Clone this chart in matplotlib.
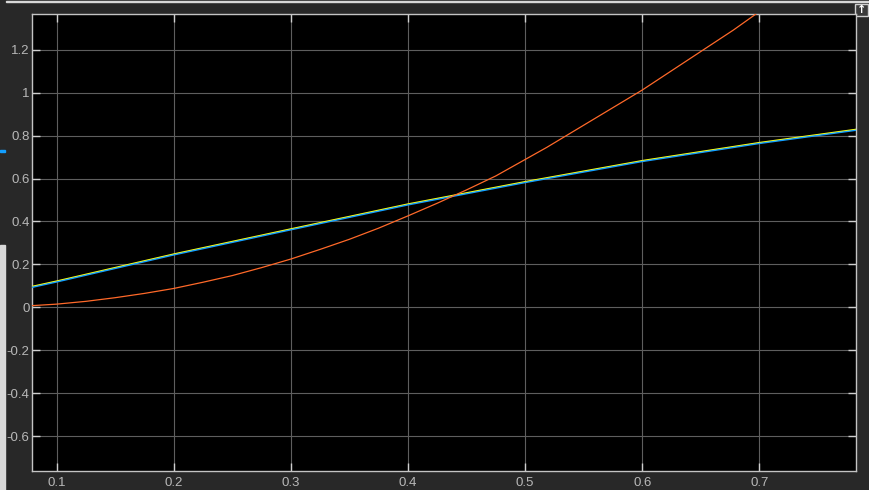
import matplotlib.pyplot as plt
import matplotlib.patheffects as pe
from matplotlib.patches import Rectangle

plt.rcParams.update({'font.family': ['Liberation Sans', 'DejaVu Sans'], 'font.size': 10})

# straight-ish signal (yellow + blue overlapping)
line_t = [0.079, 0.1, 0.2, 0.3, 0.4, 0.5, 0.6, 0.7, 0.783]
line_y = [0.097, 0.122, 0.248, 0.365, 0.481, 0.585, 0.683, 0.767, 0.829]

# orange parabola-like signal
curve_t = [0.079, 0.1, 0.125, 0.15, 0.175, 0.2, 0.225, 0.25, 0.275, 0.3, 0.325, 0.35,
           0.375, 0.4, 0.425, 0.45, 0.475, 0.5185, 0.6, 0.678, 0.72]
curve_y = [0.008, 0.015, 0.028, 0.045, 0.065, 0.088, 0.117, 0.148, 0.185, 0.225, 0.27, 0.317,
           0.369, 0.426, 0.485, 0.547, 0.612, 0.745, 1.012, 1.292, 1.455]

x_ticks = [0.1, 0.2, 0.3, 0.4, 0.5, 0.6, 0.7]
y_ticks = [-0.6, -0.4, -0.2, 0, 0.2, 0.4, 0.6, 0.8, 1, 1.2]

BG = '#282828'
fig = plt.figure(figsize=(8.69, 4.9), dpi=100, facecolor=BG)

# window chrome around the scope (behind everything)
fig.patches.append(Rectangle((6 / 869, 1 - 2.5 / 490), 1, 1.5 / 490, transform=fig.transFigure,
                             color='#d8d8d8', zorder=-5))
fig.patches.append(Rectangle((0, 0), 5 / 869, 245 / 490, transform=fig.transFigure,
                             color='#d9d9d9', zorder=-5))
fig.patches.append(Rectangle((0, 1 - 152 / 490), 5 / 869, 1.5 / 490, transform=fig.transFigure,
                             color='#139FFF', zorder=-5))
fig.patches.append(Rectangle((855 / 869, 1 - 16 / 490), 13 / 869, 12 / 490, transform=fig.transFigure,
                             facecolor='#3a3a3a', edgecolor='#d0d0d0', lw=1, zorder=-5))
fig.text(861.5 / 869, 1 - 10 / 490, '\u2191', color='white', fontsize=8, ha='center', va='center',
         fontweight='bold', family='DejaVu Sans')

ax = fig.add_axes([0.0372, 0.0388, 0.9482, 0.9332], facecolor='black')

ax.plot(line_t, line_y, color='#FFFF11', lw=1.1, zorder=3)
ax.plot(line_t, line_y, color='#139FFF', lw=1.0, zorder=4,
        path_effects=[pe.Stroke(offset=(0, -0.6), linewidth=1.0, foreground='#139FFF')])
ax.plot(curve_t, curve_y, color='#FF6929', lw=0.9, zorder=5)

ax.set_xlim(0.0793, 0.7828)
ax.set_ylim(-0.762, 1.3675)
ax.set_xticks(x_ticks)
ax.set_xticklabels([f'{v:g}' for v in x_ticks])
ax.set_yticks(y_ticks)
ax.set_yticklabels([f'{v:g}' for v in y_ticks])

ax.grid(True, color='#5e5e5e', lw=0.8)
ax.tick_params(direction='in', length=6, width=1, color='#cfcfcf', labelcolor='#b8b8b8',
               top=True, right=True, labelsize=9.5)
ax.tick_params(axis='y', pad=2)
ax.tick_params(axis='x', pad=4)
for s in ax.spines.values():
    s.set_color('#c4c4c4')
    s.set_linewidth(1.0)

fig.savefig('out.png', dpi=100, facecolor=BG)
